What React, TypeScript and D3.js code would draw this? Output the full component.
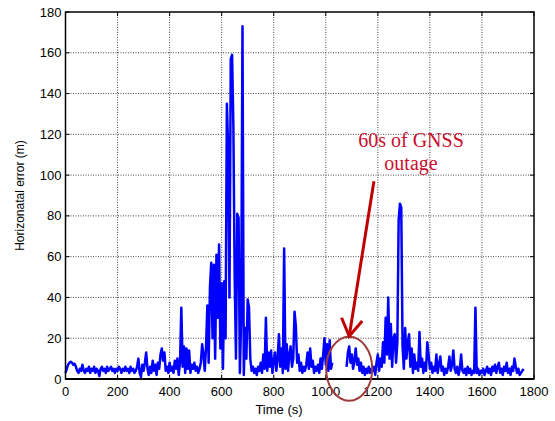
import React from "react";
import * as d3 from "d3";

const timeStep = 5;
const startBefore = 0;
const startAfter = 1080;

const errorBeforeOutage = [
  3, 5, 7, 8, 8.5, 8, 7, 7.5, 6, 4, 3, 5, 4, 7, 4, 3, 5, 4, 6, 3,
  5, 4, 6, 3, 5, 4, 1.5, 5, 6, 4, 5, 3, 6, 4, 5, 6, 4, 5, 3, 5,
  4, 6, 5, 3, 5, 4, 6, 4, 5, 3, 6, 4, 5, 3,
  4, 6, 10, 3, 1, 7, 4, 8, 13, 5, 2, 6, 3, 9, 4, 7, 2, 8, 5, 12,
  15, 9, 13, 4, 6, 3, 8, 4, 6, 3, 9, 5, 10, 2, 8, 35, 6, 16, 3, 15,
  5, 14, 3, 7, 5, 8, 4, 6, 3, 5, 8, 17, 12, 4, 16, 36, 8, 45, 57, 20,
  56, 10, 61, 30, 66, 15, 47, 5, 48, 20, 135, 113, 40, 157, 159, 124, 50, 10, 81, 79,
  3, 30, 173, 2, 25, 10, 39, 35, 10, 4,
  6, 3, 5, 2, 6, 4, 8, 3, 12, 5, 30, 4, 13, 6, 14, 3, 9, 13, 4, 10,
  22, 6, 15, 3, 64, 5, 17, 4, 12, 16, 6, 10, 33, 26, 8, 12, 4, 8, 3, 6,
  4, 7, 13, 5, 15, 6, 9, 3, 6, 4, 7, 3, 10, 5, 12, 20, 7, 17, 4, 19,
  5, 8,
];

const errorAfterOutage = [
  6, 13, 16, 8, 12, 5, 9, 15, 7, 10, 4, 8, 3, 6, 2, 5, 3, 6, 3, 5,
  4, 6, 2, 8, 12, 4, 10, 6, 18, 8, 30, 12, 40, 10, 27, 6, 20, 22, 8, 18,
  78, 86, 84, 16, 5, 25, 10, 18, 22, 6, 15, 3, 12, 5, 8, 4, 23, 6, 10, 3,
  8, 4, 18, 12, 5, 8, 3, 6, 4, 12, 3, 7, 11, 4, 6, 2, 5, 3, 6, 11,
  4, 7, 14, 5, 3, 6, 2, 5, 12, 4, 3, 5, 2, 6, 3, 5, 2, 4, 3, 35,
  3, 5, 2, 4, 3, 5, 2, 4, 6, 3, 5, 2, 6, 4, 7, 3, 6, 8, 3, 5,
  2, 6, 4, 8, 3, 5, 2, 6, 4, 10, 6, 3, 5, 2, 3, 4, 5,
];

const xTicks = [0, 200, 400, 600, 800, 1000, 1200, 1400, 1600, 1800];
const yTicks = [0, 20, 40, 60, 80, 100, 120, 140, 160, 180];
const annotationLines = ["60s of GNSS", "outage"];

const W = 555;
const H = 421;
const left = 65.5;
const right = 534;
const top = 12;
const bottom = 379;

export default function App() {
  const x = d3.scaleLinear().domain([0, 1800]).range([left, right]);
  const y = d3.scaleLinear().domain([0, 180]).range([bottom, top]);

  const before = errorBeforeOutage.map((v, i) => [startBefore + i * timeStep, v]);
  const after = errorAfterOutage.map((v, i) => [startAfter + i * timeStep, v]);

  const line = d3
    .line<number[]>()
    .x((d) => x(d[0]))
    .y((d) => y(d[1]));

  const tickLen = 4;
  const font = "Liberation Sans, Arial, sans-serif";
  const red = "#c00000";

  const arrowTop = [1185, 97];
  const arrowTip = [1090, 21];
  const tipX = x(arrowTip[0]);
  const tipY = y(arrowTip[1]);
  const topX = x(arrowTop[0]);
  const topY = y(arrowTop[1]);
  const ang = Math.atan2(tipY - topY, tipX - topX);
  const wing = 20;
  const spread = 0.55;
  const w1 = [tipX - wing * Math.cos(ang - spread), tipY - wing * Math.sin(ang - spread)];
  const w2 = [tipX - wing * Math.cos(ang + spread), tipY - wing * Math.sin(ang + spread)];

  return (
    <>
      <style>{"body{margin:0}"}</style>
      <svg width={W} height={H} style={{ display: "block", background: "#fff" }}>
        <rect x={0} y={0} width={W} height={H} fill="#fff" />
        <g stroke="#4a4a4a" strokeWidth={1} strokeDasharray="1,1.5">
          {xTicks.slice(1, -1).map((t) => (
            <line key={"gx" + t} x1={x(t)} x2={x(t)} y1={top} y2={bottom} />
          ))}
          {yTicks.slice(1, -1).map((t) => (
            <line key={"gy" + t} x1={left} x2={right} y1={y(t)} y2={y(t)} />
          ))}
        </g>
        <g stroke="#000" strokeWidth={1}>
          {xTicks.map((t) => (
            <g key={"tx" + t}>
              <line x1={x(t)} x2={x(t)} y1={bottom} y2={bottom - tickLen} />
              <line x1={x(t)} x2={x(t)} y1={top} y2={top + tickLen} />
            </g>
          ))}
          {yTicks.map((t) => (
            <g key={"ty" + t}>
              <line x1={left} x2={left + tickLen} y1={y(t)} y2={y(t)} />
              <line x1={right} x2={right - tickLen} y1={y(t)} y2={y(t)} />
            </g>
          ))}
        </g>
        <path d={line(before) || ""} fill="none" stroke="#0000ff" strokeWidth={2.5} strokeLinejoin="round" />
        <path d={line(after) || ""} fill="none" stroke="#0000ff" strokeWidth={2.5} strokeLinejoin="round" />
        <rect x={left} y={top} width={right - left} height={bottom - top} fill="none" stroke="#000" strokeWidth={1.5} />
        <line x1={left} x2={right} y1={bottom} y2={bottom} stroke="#000" strokeWidth={2} />
        <g fontFamily={font} fontSize={13} fill="#000">
          {xTicks.map((t) => (
            <text key={"lx" + t} x={x(t)} y={396} textAnchor="middle">
              {t}
            </text>
          ))}
          {yTicks.map((t) => (
            <text key={"ly" + t} x={left - 4} y={y(t)} dy="0.35em" textAnchor="end">
              {t}
            </text>
          ))}
        </g>
        <text x={279} y={414} textAnchor="middle" fontFamily={font} fontSize={13}>
          Time (s)
        </text>
        <text
          transform={`translate(24,${(top + bottom) / 2}) rotate(-90)`}
          textAnchor="middle"
          fontFamily={font}
          fontSize={12}
        >
          Horizonatal error (m)
        </text>
        <ellipse cx={x(1090)} cy={y(5)} rx={23} ry={32} fill="none" stroke="#9e3b3b" strokeWidth={2} />
        <line x1={topX} y1={topY} x2={tipX} y2={tipY} stroke={red} strokeWidth={3} />
        <polyline
          points={`${w1[0]},${w1[1]} ${tipX},${tipY} ${w2[0]},${w2[1]}`}
          fill="none"
          stroke={red}
          strokeWidth={3}
        />
        <g fontFamily="Liberation Serif, Times New Roman, serif" fontSize={20} fill="#c8102e" textAnchor="middle">
          <text x={411} y={147}>{annotationLines[0]}</text>
          <text x={411} y={170}>{annotationLines[1]}</text>
        </g>
      </svg>
    </>
  );
}
